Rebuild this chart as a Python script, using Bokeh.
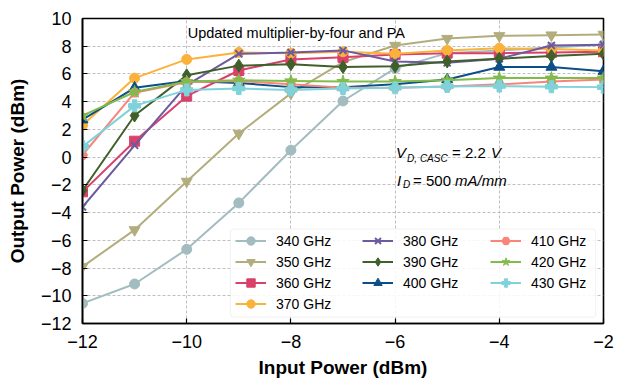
from bokeh.plotting import figure
from bokeh.models import Legend, LegendItem, Label, BoxAnnotation, FixedTicker
from bokeh.embed import file_html
from bokeh.resources import INLINE

# ---------------- data ----------------
input_power = [-12, -11, -10, -9, -8, -7, -6, -5, -4, -3, -2]

p340 = [-10.55, -9.15, -6.65, -3.3, 0.5, 4.05, 6.4, 7.5, 7.7, 7.9, 8.1]
p350 = [-7.9, -5.25, -1.75, 1.7, 4.6, 6.85, 8.05, 8.55, 8.75, 8.8, 8.85]
p360 = [-2.5, 1.15, 4.4, 6.25, 7.05, 7.2, 7.4, 7.5, 7.5, 7.55, 7.6]
p370 = [2.3, 5.7, 7.05, 7.55, 7.5, 7.6, 7.45, 7.7, 7.85, 7.8, 7.7]
p380 = [-3.6, 0.85, 5.2, 7.45, 7.55, 7.7, 6.9, 6.8, 7.1, 8.05, 8.1]
p390 = [-2.4, 3.0, 5.9, 6.6, 6.7, 6.5, 6.55, 6.9, 7.1, 7.3, 7.45]
p400 = [2.7, 5.0, 5.5, 5.35, 5.05, 5.05, 5.25, 5.6, 6.5, 6.5, 6.2]
p410 = [0.15, 4.65, 5.4, 5.5, 5.25, 5.0, 5.0, 5.1, 5.25, 5.45, 5.6]
p420 = [3.0, 4.7, 5.45, 5.55, 5.5, 5.45, 5.45, 5.55, 5.7, 5.7, 5.7]
p430 = [0.75, 3.7, 4.85, 4.95, 4.85, 4.95, 5.0, 5.1, 5.13, 5.08, 5.05]

labels = ["340 GHz", "350 GHz", "360 GHz", "370 GHz", "380 GHz",
          "390 GHz", "400 GHz", "410 GHz", "420 GHz", "430 GHz"]
series = [p340, p350, p360, p370, p380, p390, p400, p410, p420, p430]
colors = ["#a2bcbf", "#b3ad7e", "#d9406a", "#fbb23a", "#6d5a9f",
          "#40602a", "#0b4e88", "#f9857a", "#82bb4b", "#7fd2da"]
markers = ["circle", "inverted_triangle", "square", "circle", "x",
           "diamond", "triangle", "hex", "star", "plus"]
sizes = [10, 11, 10, 10, 10, 13, 11, 10, 13, 12]

x_ticks = [-12, -10, -8, -6, -4, -2]
y_ticks = [-12, -10, -8, -6, -4, -2, 0, 2, 4, 6, 8, 10]

FONT = "Liberation Sans"

p = figure(width=617, height=384, x_range=(-12, -2), y_range=(-12, 10),
           output_backend="svg", toolbar_location=None,
           min_border_left=82, min_border_right=14, min_border_top=18,
           min_border_bottom=61)

p.background_fill_color = "white"
p.border_fill_color = "white"
p.outline_line_color = "black"
p.outline_line_width = 1.6

for ax in (p.xaxis[0], p.yaxis[0]):
    ax.axis_line_color = "black"
    ax.axis_line_width = 1.6
    ax.major_tick_in = 5
    ax.major_tick_out = 0
    ax.major_tick_line_color = "black"
    ax.major_tick_line_width = 1.2
    ax.minor_tick_line_color = None
    ax.major_label_text_font = FONT
    ax.major_label_text_font_size = "18px"
    ax.major_label_text_color = "black"
    ax.axis_label_text_font = FONT
    ax.axis_label_text_font_size = "19px"
    ax.axis_label_text_font_style = "bold"
    ax.axis_label_text_color = "black"

p.xaxis.ticker = FixedTicker(ticks=x_ticks)
p.yaxis.ticker = FixedTicker(ticks=y_ticks)
p.xaxis.major_label_overrides = {t: str(t).replace("-", "\u2212") for t in x_ticks}
p.yaxis.major_label_overrides = {t: str(t).replace("-", "\u2212") for t in y_ticks}
p.xaxis.axis_label = "Input Power (dBm)"
p.yaxis.axis_label = "Output Power (dBm)"
p.xaxis.major_label_standoff = 11
p.yaxis.major_label_standoff = 11
p.xaxis.axis_label_standoff = 6
p.yaxis.axis_label_standoff = 10

for g, tk in ((p.xgrid[0], x_ticks), (p.ygrid[0], y_ticks)):
    g.ticker = FixedTicker(ticks=tk)
    g.grid_line_color = "#b8b8b8"
    g.grid_line_dash = "3 2"
    g.grid_line_width = 0.9

items = []
for lab_, ys, c, m, s in zip(labels, series, colors, markers, sizes):
    lr = p.line(input_power, ys, line_color=c, line_width=2)
    sr = p.scatter(input_power, ys, marker=m, size=s, fill_color=c,
                   line_color=c, line_width=2 if m == "x" else 1)
    items.append(LegendItem(label=lab_, renderers=[lr, sr]))

# legend frame (matplotlib-like shared box)
box = BoxAnnotation(left=-9.16, right=-2.15, top=-5.19, bottom=-11.54,
                    fill_color="white", fill_alpha=0.85,
                    line_color="#d0d0d0", line_width=1, border_radius=3)
p.add_layout(box)

cols = [(items[0:4], 153, 9), (items[4:7], 280, 30), (items[7:10], 408, 30)]
for its, vx, vy in cols:
    lg = Legend(items=its, location=(vx, vy), padding=0, margin=0, spacing=0,
                glyph_width=31, glyph_height=21, label_height=21,
                label_standoff=10, label_text_font=FONT,
                label_text_font_size="14px", label_text_color="black",
                border_line_color=None, background_fill_alpha=0.0)
    p.add_layout(lg, "center")

# annotations
p.add_layout(Label(x=-10.0, y=8.92, text="Updated multiplier-by-four and PA",
                   text_font=FONT, text_font_size="14.5px", text_color="black",
                   text_baseline="middle", x_offset=1))

def lab(x, y, txt, size, style, xoff):
    p.add_layout(Label(x=x, y=y, text=txt, text_font=FONT,
                       text_font_size=size, text_font_style=style,
                       text_color="black", text_baseline="middle",
                       x_offset=xoff))

lab(-6, 0.33, "V", "15px", "italic", 1)
lab(-6, -0.12, "D, CASC", "10px", "italic", 12)
lab(-6, 0.33, "= 2.2", "15px", "normal", 57)
lab(-6, 0.33, "V", "15px", "italic", 96)
lab(-6, -1.68, "I", "15px", "italic", 2)
lab(-6, -2.0, "D", "10px", "italic", 8)
lab(-6, -1.68, "= 500", "15px", "normal", 18)
lab(-6, -1.68, "mA/mm", "15px", "italic", 60)

open("out.html", "w").write(file_html(p, INLINE))
